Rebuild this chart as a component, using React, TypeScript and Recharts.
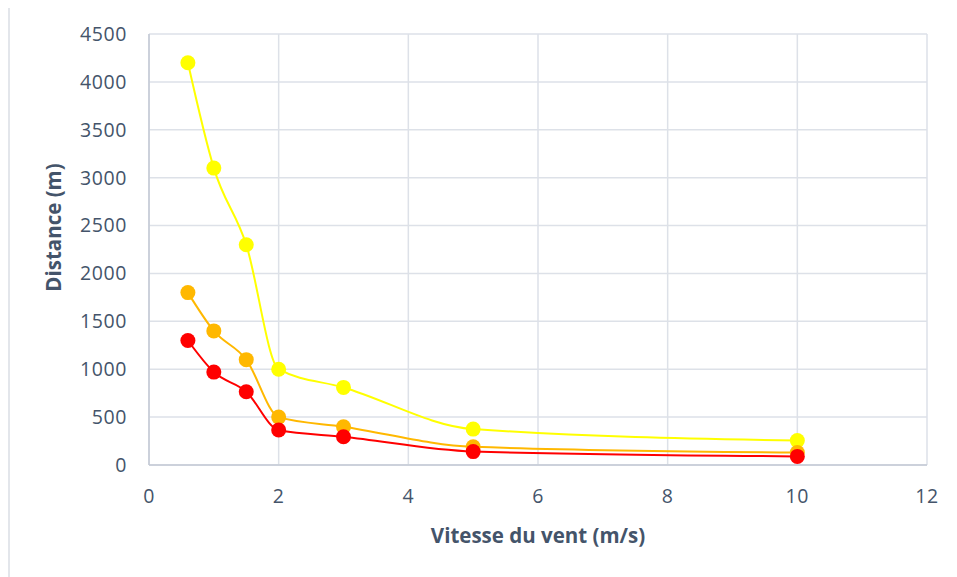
import { LineChart, Line, XAxis, YAxis, CartesianGrid } from 'recharts';

// Wind speed (m/s) and distance (m) for the three curves
const windSpeeds = [0.6, 1, 1.5, 2, 3, 5, 10];
const yellowDistances = [4200, 3100, 2300, 1000, 810, 375, 255];
const orangeDistances = [1800, 1400, 1100, 500, 400, 190, 130];
const redDistances = [1300, 970, 765, 365, 295, 140, 90];

const xTicks = [0, 2, 4, 6, 8, 10, 12];
const yTicks = [0, 500, 1000, 1500, 2000, 2500, 3000, 3500, 4000, 4500];

const TEXT = '#44546a';
const FONT = '"Open Sans", sans-serif';

const chartData = windSpeeds.map((v, i) => ({
  speed: v,
  yellow: yellowDistances[i],
  orange: orangeDistances[i],
  red: redDistances[i],
}));

const tickStyle = { fontSize: 19.5, fill: TEXT, fontFamily: FONT, letterSpacing: 0.6 };

function App() {
  return (
    <div
      style={{
        marginTop: -3,
        width: 947,
        height: 570,
        borderTop: '2px solid #e3e6eb',
        borderLeft: '2px solid #e3e6eb',
        background: '#fff',
      }}
    >
      <LineChart
        width={947}
        height={570}
        data={chartData}
        margin={{ top: 27, right: 30, bottom: 0, left: 0 }}
      >
        <CartesianGrid stroke="#dde1e8" strokeWidth={1.5} />
        <XAxis
          dataKey="speed"
          type="number"
          domain={[0, 12]}
          ticks={xTicks}
          height={112}
          stroke="#c3cad5"
          strokeWidth={1.5}
          tickLine={false}
          tickSize={0}
          tickMargin={24}
          tick={tickStyle}
          label={{
            value: 'Vitesse du vent (m/s)',
            position: 'insideBottom',
            offset: 34,
            style: { fontSize: 20.5, fontWeight: 700, fill: TEXT, fontFamily: FONT },
          }}
        />
        <YAxis
          type="number"
          domain={[0, 4500]}
          ticks={yTicks}
          width={139}
          stroke="#c3cad5"
          strokeWidth={1.5}
          tickLine={false}
          tickSize={0}
          tickMargin={22}
          tick={tickStyle}
          label={{
            value: 'Distance (m)',
            angle: -90,
            position: 'insideLeft',
            offset: 44,
            dy: -22,
            style: { fontSize: 20.5, fontWeight: 700, fill: TEXT, fontFamily: FONT, textAnchor: 'middle' },
          }}
        />
        <Line
          type="monotone"
          dataKey="yellow"
          stroke="#ffff00"
          strokeWidth={2}
          dot={{ r: 7.5, fill: '#ffff00', stroke: '#ffff00', strokeWidth: 0 }}
          activeDot={false}
          isAnimationActive={false}
        />
        <Line
          type="monotone"
          dataKey="orange"
          stroke="#ffb800"
          strokeWidth={2}
          dot={{ r: 7.5, fill: '#ffb800', stroke: '#ffb800', strokeWidth: 0 }}
          activeDot={false}
          isAnimationActive={false}
        />
        <Line
          type="monotone"
          dataKey="red"
          stroke="#ff0000"
          strokeWidth={2}
          dot={{ r: 7.5, fill: '#ff0000', stroke: '#ff0000', strokeWidth: 0 }}
          activeDot={false}
          isAnimationActive={false}
        />
      </LineChart>
    </div>
  );
}

export default App;
